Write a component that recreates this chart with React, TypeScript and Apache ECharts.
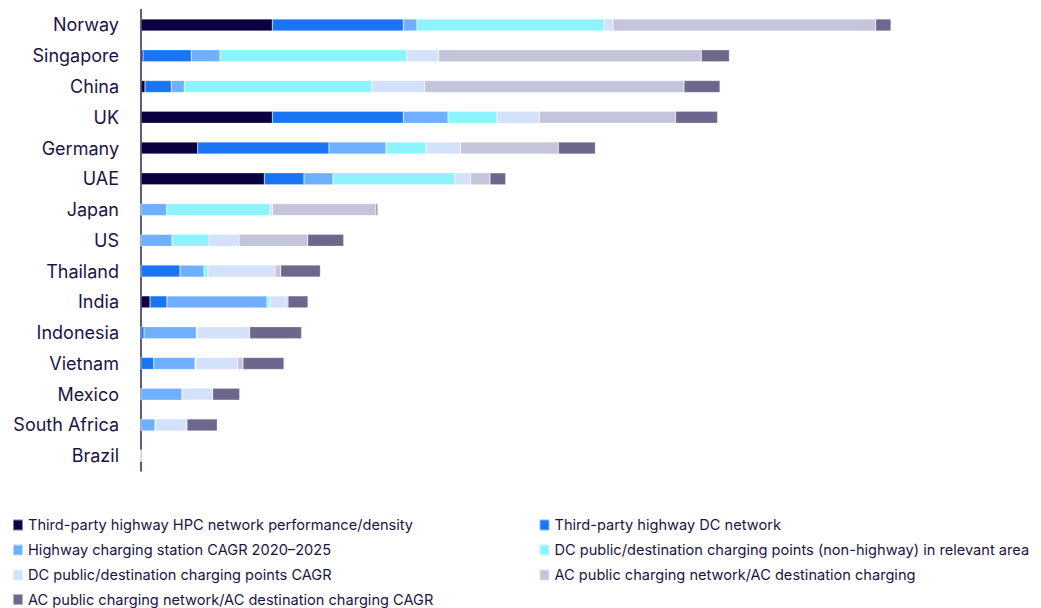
import React, { useEffect, useRef } from "react";
import * as echarts from "echarts";

const countries = [
  "Norway", "Singapore", "China", "UK", "Germany", "UAE", "Japan", "US",
  "Thailand", "India", "Indonesia", "Vietnam", "Mexico", "South Africa", "Brazil",
];

const seriesNames = [
  "Third-party highway HPC network performance/density",
  "Third-party highway DC network",
  "Highway charging station CAGR 2020–2025",
  "DC public/destination charging points (non-highway) in relevant area",
  "DC public/destination charging points CAGR",
  "AC public charging network/AC destination charging",
  "AC public charging network/AC destination charging CAGR",
];

const hpcNetwork = [131.3, 2, 4, 131.3, 56.7, 123.3, 0, 0, 0, 9, 0, 0, 0, 0, 0];
const dcNetwork = [131, 48.3, 26.3, 131, 131.3, 39.7, 0, 0, 39, 17, 3, 12.7, 0, 0, 0];
const highwayCagr = [13.7, 28.7, 13, 44.7, 57, 29, 25.7, 31, 24, 100, 52.3, 41.3, 41, 14, 0];
const dcPublic = [187, 187, 187.7, 49, 40, 122, 103.3, 37, 4, 3, 1, 1, 0, 0.7, 0];
const dcPublicCagr = [9, 31.7, 52.7, 42.3, 34.7, 15.7, 2.7, 30, 67, 16, 52.3, 41.7, 30.7, 31.3, 0];
const acPublic = [262.7, 262.7, 259.3, 136.3, 97.7, 19.3, 103.3, 68.7, 5.7, 2, 0, 5.3, 0, 0, 0];
const acPublicCagr = [15.3, 28, 36, 42, 37, 15.7, 1.7, 36, 39.7, 20, 52, 41, 27, 30.3, 0.8];

const seriesValues = [hpcNetwork, dcNetwork, highwayCagr, dcPublic, dcPublicCagr, acPublic, acPublicCagr];
const colors = ["#0b0040", "#1a75f5", "#6eb0ff", "#8df4fe", "#d3e1fa", "#c4c4da", "#6e678d"];

// legend placement: [column, row] per series
const legendSlots = [[0, 0], [1, 0], [0, 1], [1, 1], [0, 2], [1, 2], [0, 3]];
const legendRowCenters = [525, 550, 575, 599.5];
const legendColumnLefts = [12, 538.5];

export default function App() {
  const ref = useRef<HTMLDivElement>(null);
  useEffect(() => {
    if (!ref.current) return;
    const chart = echarts.init(ref.current, null, { renderer: "svg" });
    const textColor = "#1a1446";
    const font = "Inter, 'Noto Sans', sans-serif";
    const legendText = { color: textColor, fontSize: 14.6, fontFamily: font, lineHeight: 15 };
    chart.setOption({
      animation: false,
      color: colors,
      grid: { left: 141, right: 41, top: 9.6, height: 461.5, containLabel: false },
      xAxis: {
        type: "value",
        min: 0,
        max: 859,
        show: false,
      },
      yAxis: {
        type: "category",
        data: countries,
        inverse: true,
        axisLine: { show: true, lineStyle: { color: "#2b2452", width: 1.5 } },
        axisTick: { show: false },
        axisLabel: { color: textColor, fontSize: 18, fontFamily: font, margin: 22 },
      },
      legend: seriesNames.map((name, i) => ({
        orient: "horizontal",
        left: legendColumnLefts[legendSlots[i][0]],
        top: legendRowCenters[legendSlots[i][1]] - 7.5,
        padding: 0,
        itemWidth: 10,
        itemHeight: 11,
        icon: "rect",
        data: [name],
        textStyle: legendText,
      })),
      series: seriesNames.map((name, i) => ({
        name,
        type: "bar",
        stack: "total",
        barWidth: 12,
        data: seriesValues[i],
        itemStyle: { color: colors[i], borderColor: "rgba(255,255,255,0.5)", borderWidth: 0.5 },
      })),
    });
    return () => chart.dispose();
  }, []);
  return (
    <div
      ref={ref}
      style={{ position: "fixed", left: 0, top: 0, width: 1041, height: 608, background: "#fff" }}
    />
  );
}
